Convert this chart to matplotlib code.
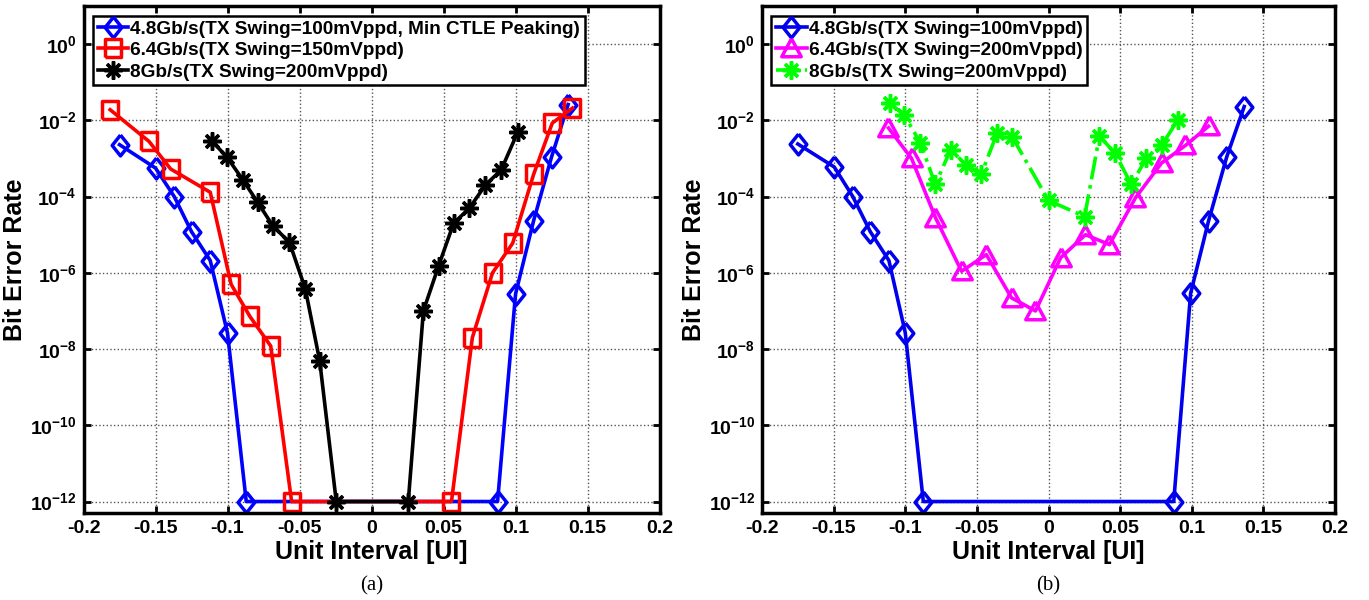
import matplotlib
matplotlib.use('Agg')
import matplotlib.pyplot as plt
from matplotlib.ticker import NullLocator

plt.rcParams['font.family'] = ['Liberation Sans', 'DejaVu Sans']
plt.rcParams['font.weight'] = 'bold'
plt.rcParams['mathtext.fontset'] = 'custom'
plt.rcParams['mathtext.rm'] = 'Liberation Sans:bold'
plt.rcParams['mathtext.bf'] = 'Liberation Sans:bold'
plt.rcParams['mathtext.default'] = 'bf'

# ---- data, panel (a) ----
a_48_x = [-0.175, -0.150, -0.137, -0.125, -0.112, -0.100, -0.087,
          0.0875, 0.100, 0.1125, 0.125, 0.1365]
a_48_y = [2.3e-3, 5.6e-4, 1.0e-4, 1.2e-5, 2.1e-6, 2.6e-8, 1e-12,
          1e-12, 2.8e-7, 2.3e-5, 1.1e-3, 2.6e-2]

a_64_x = [-0.1815, -0.1545, -0.1395, -0.112, -0.0975, -0.0845, -0.070, -0.0555,
          0.0555, 0.070, 0.084, 0.098, 0.1125, 0.1255, 0.1395]
a_64_y = [1.9e-2, 2.8e-3, 5.3e-4, 1.3e-4, 5.0e-7, 7.2e-8, 1.2e-8, 1e-12,
          1e-12, 2.0e-8, 1.0e-6, 6.0e-6, 3.8e-4, 8.5e-3, 2.1e-2]

a_8_x = [-0.111, -0.1005, -0.0895, -0.079, -0.0685, -0.057, -0.046, -0.036, -0.0245,
         0.0255, 0.036, 0.0465, 0.057, 0.068, 0.079, 0.090, 0.1015]
a_8_y = [2.9e-3, 1.1e-3, 2.8e-4, 7.0e-5, 1.7e-5, 6.3e-6, 3.8e-7, 4.9e-9, 1e-12,
         1e-12, 1.0e-7, 1.5e-6, 2.0e-5, 5.0e-5, 2.0e-4, 5.0e-4, 4.9e-3]

# ---- data, panel (b) ----
b_48_x = [-0.175, -0.1496, -0.1366, -0.1244, -0.1114, -0.100, -0.0874,
          0.0874, 0.0992, 0.1117, 0.1244, 0.1366]
b_48_y = [2.4e-3, 6.0e-4, 1.0e-4, 1.2e-5, 2.1e-6, 2.7e-8, 1e-12,
          1e-12, 2.9e-7, 2.3e-5, 1.1e-3, 2.3e-2]

b_64_x = [-0.1117, -0.0956, -0.0789, -0.0607, -0.0434, -0.0258, -0.0091,
          0.0085, 0.0258, 0.0425, 0.0607, 0.0789, 0.0956, 0.1117]
b_64_y = [6.3e-3, 1.0e-3, 2.8e-5, 1.1e-6, 3.0e-6, 2.2e-7, 1.0e-7,
          2.5e-6, 1.0e-5, 5.5e-6, 9.3e-5, 7.6e-4, 2.2e-3, 7.0e-3]

b_8_x = [-0.1108, -0.1008, -0.0895, -0.079, -0.0683, -0.0577, -0.047, -0.0358, -0.0252,
         0.0, 0.0252, 0.0355, 0.0464, 0.0577, 0.0683, 0.0789, 0.0901]
b_8_y = [2.8e-2, 1.4e-2, 2.6e-3, 2.1e-4, 1.7e-3, 6.9e-4, 3.8e-4, 4.7e-3, 3.6e-3,
         7.9e-5, 3.0e-5, 3.8e-3, 1.4e-3, 2.1e-4, 1.0e-3, 2.2e-3, 1.0e-2]

x_ticks = [-0.2, -0.15, -0.1, -0.05, 0, 0.05, 0.1, 0.15, 0.2]
x_labels = ['-0.2', '-0.15', '-0.1', '-0.05', '0', '0.05', '0.1', '0.15', '0.2']
y_ticks = [1e0, 1e-2, 1e-4, 1e-6, 1e-8, 1e-10, 1e-12]
y_labels = [r'$10^{0}$', r'$10^{-2}$', r'$10^{-4}$', r'$10^{-6}$',
            r'$10^{-8}$', r'$10^{-10}$', r'$10^{-12}$']

a_names = ['4.8Gb/s(TX Swing=100mVppd, Min CTLE Peaking)',
           '6.4Gb/s(TX Swing=150mVppd)',
           '8Gb/s(TX Swing=200mVppd)']
b_names = ['4.8Gb/s(TX Swing=100mVppd)',
           '6.4Gb/s(TX Swing=200mVppd)',
           '8Gb/s(TX Swing=200mVppd)']

# slightly tall markers, as in the source picture
diamond = [(0, 1), (0.8, 0), (0, -1), (-0.8, 0), (0, 1)]
square = [(-0.85, -1), (0.85, -1), (0.85, 1), (-0.85, 1), (-0.85, -1)]
triangle = [(0, 1), (1, -0.85), (-1, -0.85), (0, 1)]

fig = plt.figure(figsize=(13.69, 6.0), dpi=100)
ax1 = fig.add_axes([0.0610, 0.145, 0.4208, 0.845])
ax2 = fig.add_axes([0.5566, 0.145, 0.4186, 0.845])


def style_axes(ax, tag):
    ax.set_yscale('log')
    ax.set_xlim(-0.2, 0.2)
    ax.set_ylim(5e-13, 10)
    ax.set_xticks(x_ticks, x_labels)
    ax.set_yticks(y_ticks, y_labels)
    ax.yaxis.set_minor_locator(NullLocator())
    ax.tick_params(direction='in', top=True, right=True, length=5, width=2,
                   labelsize=14, pad=5)
    for lab in ax.get_xticklabels():
        lab.set_fontweight('bold')
    for s in ax.spines.values():
        s.set_linewidth(2.5)
    ax.grid(True, linestyle=':', color='#555555', linewidth=1)
    ax.set_xlabel('Unit Interval [UI]', fontsize=18, fontweight='bold', labelpad=2)
    ax.set_ylabel('Bit Error Rate', fontsize=18, fontweight='bold', labelpad=2)
    ax.text(0.5, -0.143, tag, transform=ax.transAxes, ha='center', va='center',
            fontsize=15, fontweight='normal', family='Liberation Serif')


lw = 2.6
mew = 2.5

ax1.plot(a_48_x, a_48_y, '-', color='#0000ff', lw=lw, marker=diamond, ms=15,
         mfc='none', mew=mew, label=a_names[0])
ax1.plot(a_64_x, a_64_y, '-', color='#ff0000', lw=lw, marker=square, ms=13,
         mfc='none', mew=mew, label=a_names[1])
ax1.plot(a_8_x, a_8_y, '-', color='black', lw=lw, marker=(8, 2, 0), ms=13,
         mew=mew, label=a_names[2])
style_axes(ax1, '(a)')

ax2.plot(b_48_x, b_48_y, '-', color='#0000ee', lw=lw, marker=diamond, ms=15,
         mfc='none', mew=mew, label=b_names[0])
ax2.plot(b_64_x, b_64_y, '-', color='#ff00ff', lw=lw, marker=triangle, ms=14,
         mfc='none', mew=mew, label=b_names[1])
ax2.plot(b_8_x, b_8_y, '-.', color='#00ff00', lw=lw, marker=(8, 2, 0), ms=13,
         mew=mew, label=b_names[2])
style_axes(ax2, '(b)')

for ax in (ax1, ax2):
    leg = ax.legend(loc='upper left', bbox_to_anchor=(0.0, 1.0), fancybox=False,
                    edgecolor='black', framealpha=1, prop={'weight': 'bold', 'size': 13.7},
                    handlelength=1.6, handletextpad=0.1, borderpad=0.25,
                    labelspacing=0.22, borderaxespad=0.5)
    leg.get_frame().set_linewidth(1.8)

fig.savefig('out.png', dpi=100)
